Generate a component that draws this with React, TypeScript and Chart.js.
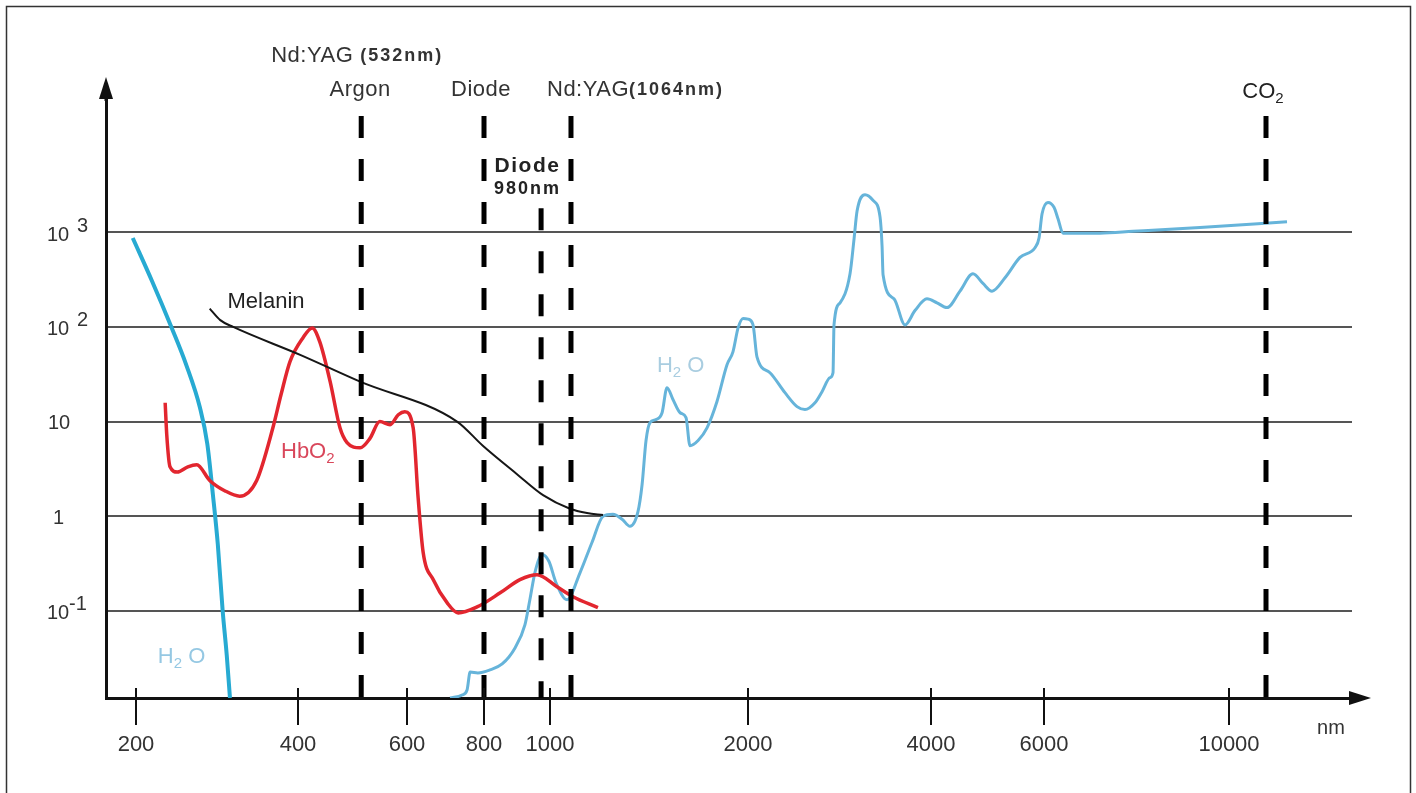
import React, { useEffect, useRef } from 'react';
import { Chart, registerables } from 'chart.js';

Chart.register(...registerables);

const FONT = '"Liberation Sans", Arial, Helvetica, sans-serif';
const W = 1416;
const H = 793;

// ---- axis definition (hand-drawn, non-uniform wavelength axis) ----
const xTickNm = [200, 400, 600, 800, 1000, 2000, 4000, 6000, 10000];
const xTickLabels = ['200', '400', '600', '800', '1000', '2000', '4000', '6000', '10000'];
const xTickPos = [0, 162, 271, 348, 414, 612, 795, 908, 1093];
const X_MIN = -30;
const X_MAX = 1216;

const yTickVals = [0.1, 1, 10, 100, 1000];
const yTickExp = [-1, 0, 1, 2, 3];
const Y_MIN = 0.012;
const Y_MAX = 25000;

// ---- series (wavelength nm, absorption) ----
const h2oUvNm = [196, 220, 244, 262, 279, 288, 295, 301, 307, 312, 316];
const h2oUvVal = [870, 302, 98, 39.8, 14.0, 5.84, 1.67, 0.504, 0.1, 0.0342, 0.012];

const hbo2Nm = [236, 238, 242, 251, 264, 275, 291, 310, 328, 349, 369, 379, 390, 409, 426, 440, 459, 477, 490, 514, 532, 550, 569, 584, 596, 616, 629, 642, 668, 704, 733, 782, 849, 909, 961, 1035, 1116, 1242];
const hbo2Val = [15.8, 7.2, 3.33, 2.93, 3.33, 3.5, 2.39, 1.85, 1.63, 2.39, 8.6, 19.2, 42.8, 76.6, 97.6, 69.5, 26.4, 8.6, 6.0, 5.28, 6.64, 10, 9.26, 11.8, 12.7, 8.6, 1.55, 0.414, 0.214, 0.122, 0.095, 0.11, 0.155, 0.214, 0.241, 0.18, 0.141, 0.108];

const melaninNm = [291, 304, 320, 404, 514, 730, 797, 900, 979, 1101, 1187, 1268];
const melaninVal = [156, 118, 100, 50.7, 26.4, 10, 5.55, 2.78, 1.67, 1.2, 1.08, 1.03];

const h2oIrNm = [712, 743, 756, 764, 784, 818, 855, 894, 924, 939, 955, 976, 997, 1030, 1086, 1152, 1212, 1268, 1318, 1364, 1404, 1444, 1465, 1485, 1505, 1535, 1566, 1591, 1621, 1657, 1687, 1707, 1748, 1793, 1843, 1894, 1924, 1950, 1975, 2000, 2055, 2098, 2240, 2404, 2536, 2623, 2732, 2809, 2896, 2929, 2940, 3006, 3115, 3160, 3192, 3279, 3367, 3443, 3465, 3476, 3596, 3716, 3825, 3956, 4106, 4283, 4513, 4743, 4920, 5080, 5310, 5575, 5841, 5912, 5965, 6086, 6216, 6303, 6411, 7211, 7925, 9373, 11254];
const h2oIrVal = [0.012, 0.0129, 0.0146, 0.0226, 0.0221, 0.0238, 0.0275, 0.0406, 0.0711, 0.131, 0.26, 0.394, 0.332, 0.199, 0.131, 0.254, 0.528, 1.0, 1.05, 0.93, 0.783, 1.11, 2.15, 6.31, 9.75, 10.5, 12.4, 22.8, 17.1, 12.4, 11.0, 5.55, 6.31, 8.58, 16.2, 39.8, 54.6, 97.6, 123, 121, 105, 48.3, 32.8, 20.2, 14.4, 13.4, 15.8, 20.7, 29.1, 32.8, 105, 180, 364, 869, 1676, 2500, 2173, 1456, 720, 356, 198, 105, 149, 198, 180, 160, 239, 364, 288, 239, 331, 543, 687, 869, 1563, 2070, 1840, 1390, 977, 980, 1024, 1125, 1295];

// ---- laser lines (position read on the axis, dashed from top value down to the axis) ----
const laserNm = [516, 800, 973, 1106, 10800];
const laserTop = [16900, 16900, 1800, 16900, 16900];

function warp(nm: number): number {
  const n = xTickNm.length;
  let i = 0;
  if (nm <= xTickNm[0]) i = 0;
  else if (nm >= xTickNm[n - 1]) i = n - 2;
  else while (nm > xTickNm[i + 1]) i++;
  const t = (nm - xTickNm[i]) / (xTickNm[i + 1] - xTickNm[i]);
  return xTickPos[i] + t * (xTickPos[i + 1] - xTickPos[i]);
}

const toPts = (xs: number[], ys: number[]) => xs.map((n, i) => ({ x: warp(n), y: ys[i] }));

type Part = { t: string; size: number; bold?: boolean; dy?: number; ls?: number };

function setFont(ctx: CanvasRenderingContext2D, p: Part) {
  ctx.font = `${p.bold ? 'bold ' : ''}${p.size}px ${FONT}`;
  (ctx as any).letterSpacing = `${p.ls || 0}px`;
}

function drawParts(ctx: CanvasRenderingContext2D, parts: Part[], x: number, y: number, align: string, color: string) {
  const ws = parts.map((p) => {
    setFont(ctx, p);
    return ctx.measureText(p.t).width;
  });
  const total = ws.reduce((a, b) => a + b, 0);
  let cx = align === 'left' ? x : align === 'center' ? x - total / 2 : x - total;
  ctx.textAlign = 'left';
  ctx.textBaseline = 'middle';
  ctx.fillStyle = color;
  parts.forEach((p, i) => {
    setFont(ctx, p);
    ctx.fillText(p.t, cx, y + (p.dy || 0));
    cx += ws[i];
  });
  (ctx as any).letterSpacing = '0px';
}

const annotations = [
  { parts: [{ t: 'Melanin', size: 22 }], nm: 313, val: 184, color: '#222' },
  { parts: [{ t: 'HbO', size: 22 }, { t: '2', size: 15, dy: 7 }], nm: 379, val: 4.78, color: '#d9475b' },
  { parts: [{ t: 'H', size: 22 }, { t: '2', size: 15, dy: 7 }, { t: ' O', size: 22 }], nm: 227, val: 0.0325, color: '#95c8e3' },
  { parts: [{ t: 'H', size: 22 }, { t: '2', size: 15, dy: 7 }, { t: ' O', size: 22 }], nm: 1540, val: 38.7, color: '#a9cde0' },
];

const decorPlugin = {
  id: 'decor',
  afterDraw(chart: any) {
    const { ctx, chartArea: ca, scales } = chart;
    const xs = scales.x;
    const ys = scales.y;
    ctx.save();

    // frame
    ctx.strokeStyle = '#333';
    ctx.lineWidth = 1.5;
    ctx.strokeRect(6.5, 6.5, 1404, 830);

    // axis arrows
    ctx.strokeStyle = '#111';
    ctx.fillStyle = '#111';
    ctx.lineWidth = 3;
    ctx.beginPath();
    ctx.moveTo(ca.left, ca.top + 1);
    ctx.lineTo(ca.left, ca.top - 8);
    ctx.stroke();
    ctx.beginPath();
    ctx.moveTo(ca.left, ca.top - 23);
    ctx.lineTo(ca.left - 7, ca.top - 1);
    ctx.lineTo(ca.left + 7, ca.top - 1);
    ctx.closePath();
    ctx.fill();

    ctx.beginPath();
    ctx.moveTo(ca.right - 1, ca.bottom);
    ctx.lineTo(ca.right + 4, ca.bottom);
    ctx.stroke();
    ctx.beginPath();
    ctx.moveTo(ca.right + 19, ca.bottom);
    ctx.lineTo(ca.right - 3, ca.bottom - 7);
    ctx.lineTo(ca.right - 3, ca.bottom + 7);
    ctx.closePath();
    ctx.fill();

    // upper part of x tick marks
    ctx.lineWidth = 2;
    xs.ticks.forEach((t: any) => {
      const px = Math.round(xs.getPixelForValue(t.value));
      ctx.beginPath();
      ctx.moveTo(px, ca.bottom - 10);
      ctx.lineTo(px, ca.bottom);
      ctx.stroke();
    });

    // axis unit
    drawParts(ctx, [{ t: 'nm', size: 20 }], ca.right - 21, ca.bottom + 30, 'center', '#333');

    // y labels (powers of ten)
    yTickVals.forEach((v, i) => {
      const py = ys.getPixelForValue(v);
      const e = yTickExp[i];
      if (e === 0) {
        drawParts(ctx, [{ t: '1', size: 20 }], 53, py + 2, 'left', '#333');
      } else if (e === 1) {
        drawParts(ctx, [{ t: '10', size: 20 }], 48, py + 2, 'left', '#333');
      } else {
        drawParts(ctx, [{ t: '10', size: 20 }], 47, py + 3, 'left', '#333');
        drawParts(ctx, [{ t: String(e), size: 20 }], e < 0 ? 69 : 77, py - 6, 'left', '#333');
      }
    });

    // in-plot labels
    annotations.forEach((a) => {
      const px = xs.getPixelForValue(warp(a.nm));
      const py = ys.getPixelForValue(a.val);
      drawParts(ctx, a.parts as Part[], px, py, 'left', a.color);
    });

    // laser labels
    const lx = laserNm.map((n) => xs.getPixelForValue(warp(n)));
    const top = ca.top;
    drawParts(ctx, [{ t: 'Nd:YAG', size: 22, ls: 0.5 }, { t: ' (532nm)', size: 18, bold: true, ls: 2 }], lx[0] - 4, top - 44, 'center', '#333');
    drawParts(ctx, [{ t: 'Argon', size: 22, ls: 0.5 }], lx[0] - 1, top - 10, 'center', '#333');
    drawParts(ctx, [{ t: 'Diode', size: 22, ls: 0.5 }], lx[1] - 3, top - 10, 'center', '#333');
    drawParts(ctx, [{ t: 'Nd:YAG', size: 22, ls: 0.5 }, { t: '(1064nm)', size: 18, bold: true, ls: 2 }], lx[3] - 24, top - 10, 'left', '#333');
    drawParts(ctx, [{ t: 'Diode', size: 21, bold: true, ls: 1.5 }], (lx[1] + lx[3]) / 2, top + 66, 'center', '#222');
    drawParts(ctx, [{ t: '980nm', size: 18, bold: true, ls: 2 }], (lx[1] + lx[3]) / 2, top + 89, 'center', '#222');
    drawParts(ctx, [{ t: 'CO', size: 22 }, { t: '2', size: 15, dy: 7 }], lx[4] - 3, top - 8, 'center', '#222');

    ctx.restore();
  },
};

export default function App() {
  const ref = useRef<HTMLCanvasElement | null>(null);

  useEffect(() => {
    if (!ref.current) return;
    const curve = (label: string, pts: any[], color: string, width: number) => ({
      label,
      data: pts,
      borderColor: color,
      backgroundColor: color,
      borderWidth: width,
      pointRadius: 0,
      fill: false,
      cubicInterpolationMode: 'monotone' as const,
      order: 2,
    });
    const laserSets = laserNm.map((n, i) => ({
      label: 'laser' + i,
      data: [
        { x: warp(n), y: laserTop[i] },
        { x: warp(n), y: Y_MIN },
      ],
      borderColor: '#000',
      borderWidth: 5,
      borderDash: [22, 21],
      borderCapStyle: 'butt' as const,
      pointRadius: 0,
      fill: false,
      tension: 0,
      order: 0,
    }));

    const chart = new Chart(ref.current, {
      type: 'line',
      data: {
        datasets: [
          ...laserSets,
          curve('Melanin', toPts(melaninNm, melaninVal), '#161616', 2),
          curve('HbO2', toPts(hbo2Nm, hbo2Val), '#e2262f', 3.5),
          curve('H2O UV', toPts(h2oUvNm, h2oUvVal), '#27aad2', 4),
          curve('H2O IR', toPts(h2oIrNm, h2oIrVal), '#66b4da', 3),
        ],
      },
      options: {
        responsive: false,
        animation: false,
        devicePixelRatio: 1,
        layout: { padding: { left: 0, top: 100, right: 64, bottom: 0 } },
        plugins: { legend: { display: false }, tooltip: { enabled: false } },
        scales: {
          x: {
            type: 'linear',
            min: X_MIN,
            max: X_MAX,
            afterBuildTicks: (scale: any) => {
              scale.ticks = xTickPos.map((v) => ({ value: v }));
            },
            afterFit: (scale: any) => {
              scale.height = 95;
            },
            grid: { display: true, drawOnChartArea: false, drawTicks: true, tickLength: 27, color: '#111', lineWidth: 2 },
            border: { display: true, color: '#111', width: 3 },
            ticks: {
              autoSkip: false,
              maxRotation: 0,
              padding: 7,
              color: '#333',
              font: { family: FONT, size: 22 },
              callback: (_v: any, i: number) => xTickLabels[i],
            },
          },
          y: {
            type: 'logarithmic',
            min: Y_MIN,
            max: Y_MAX,
            afterBuildTicks: (scale: any) => {
              scale.ticks = yTickVals.map((v) => ({ value: v }));
            },
            afterFit: (scale: any) => {
              scale.width = 106;
            },
            grid: { color: '#555', lineWidth: 2, drawTicks: false },
            border: { display: true, color: '#111', width: 3 },
            ticks: { display: false },
          },
        },
      } as any,
      plugins: [decorPlugin],
    });
    return () => chart.destroy();
  }, []);

  return (
    <div style={{ position: 'fixed', left: 0, top: 0, width: W, height: H, background: '#fff' }}>
      <canvas ref={ref} width={W} height={H} style={{ display: 'block' }} />
    </div>
  );
}
